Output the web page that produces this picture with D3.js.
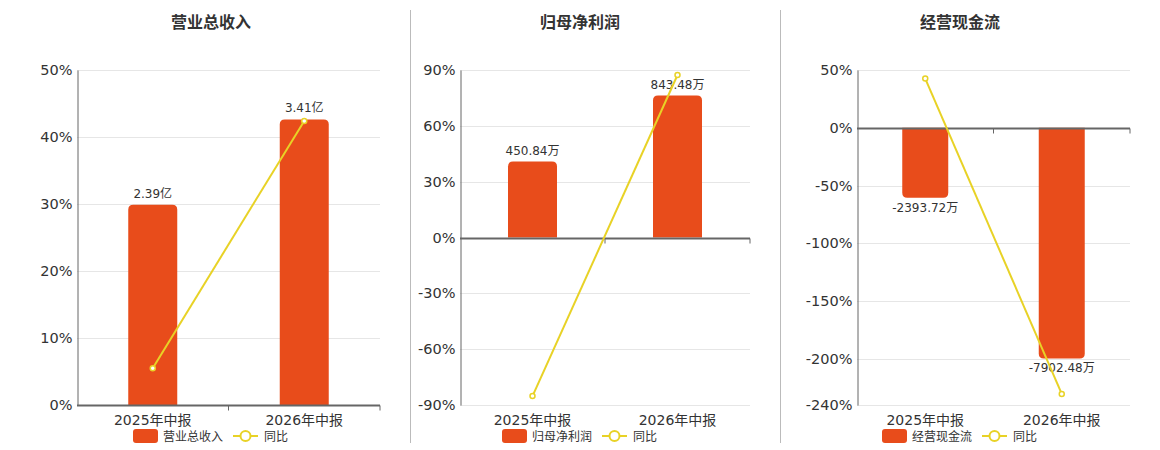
<!DOCTYPE html>
<html>
<head>
<meta charset="utf-8">
<script src="https://cdn.jsdelivr.net/npm/d3@7"></script>
<style>
  body { margin: 0; background: #fff; }
  svg { font-family: "DejaVu Sans", "Noto Sans CJK SC", sans-serif; }
</style>
</head>
<body>
<svg id="chart" width="1160" height="450"></svg>
<script>
var categories = ["2025年中报", "2026年中报"];

var titles = ["营业总收入", "归母净利润", "经营现金流"];

// bar values (shown as labels) and yoy percentages
var revenueValues = [2.39, 3.41];
var revenueLabels = ["2.39亿", "3.41亿"];
var revenueYoy = [5.5, 42.4];

var profitValues = [450.84, 843.48];
var profitLabels = ["450.84万", "843.48万"];
var profitYoy = [-85.2, 87.3];

var cashValues = [-2393.72, -7902.48];
var cashLabels = ["-2393.72万", "-7902.48万"];
var cashYoy = [42.6, -230.4];

var revenueTicks = [0, 10, 20, 30, 40, 50];
var profitTicks = [-90, -60, -30, 0, 30, 60, 90];
var cashTicks = [-240, -200, -150, -100, -50, 0, 50];

var barColor = "#e84c1b";
var lineColor = "#e8d226";

var panels = [
  { title: titles[0], values: revenueValues, labels: revenueLabels, yoy: revenueYoy,
    ticks: revenueTicks, barDomain: [0, 4.0], x0: 77, x1: 380, cx: 211, barW: 49 },
  { title: titles[1], values: profitValues, labels: profitLabels, yoy: profitYoy,
    ticks: profitTicks, barDomain: [-995, 995], x0: 460, x1: 750, cx: 580, barW: 49 },
  { title: titles[2], values: cashValues, labels: cashLabels, yoy: cashYoy,
    ticks: cashTicks, barDomain: [-9500, 1980], x0: 857, x1: 1130, cx: 960, barW: 46 }
];

var svg = d3.select("#chart");
var plotTop = 70, plotBottom = 405;

// separators
[410, 780].forEach(function(x) {
  svg.append("line")
    .attr("x1", x + 0.5).attr("x2", x + 0.5).attr("y1", 10).attr("y2", 443)
    .attr("stroke", "#bbb").attr("stroke-width", 1);
});

function roundedBar(x, y0, y1, w, r) {
  // rounded corners on the far end from zero
  var p = d3.path();
  if (y1 < y0) {
    r = Math.min(r, y0 - y1);
    p.moveTo(x, y0);
    p.lineTo(x, y1 + r);
    p.quadraticCurveTo(x, y1, x + r, y1);
    p.lineTo(x + w - r, y1);
    p.quadraticCurveTo(x + w, y1, x + w, y1 + r);
    p.lineTo(x + w, y0);
  } else {
    r = Math.min(r, y1 - y0);
    p.moveTo(x, y0);
    p.lineTo(x, y1 - r);
    p.quadraticCurveTo(x, y1, x + r, y1);
    p.lineTo(x + w - r, y1);
    p.quadraticCurveTo(x + w, y1, x + w, y1 - r);
    p.lineTo(x + w, y0);
  }
  p.closePath();
  return p.toString();
}

panels.forEach(function(pn) {
  var g = svg.append("g");

  var x = d3.scaleBand().domain(categories).range([pn.x0, pn.x1]);
  var y = d3.scaleLinear().domain(d3.extent(pn.ticks)).range([plotBottom, plotTop]);
  var yb = d3.scaleLinear().domain(pn.barDomain).range([plotBottom, plotTop]);

  g.append("text")
    .attr("x", pn.cx).attr("y", 28)
    .attr("text-anchor", "middle")
    .attr("font-size", 16).attr("font-weight", "bold")
    .attr("fill", "#333")
    .text(pn.title);

  // grid
  g.selectAll(".grid").data(pn.ticks).enter().append("line")
    .attr("x1", pn.x0).attr("x2", pn.x1)
    .attr("y1", function(d) { return Math.round(y(d)) + 0.5; })
    .attr("y2", function(d) { return Math.round(y(d)) + 0.5; })
    .attr("stroke", "#e6e6e6");

  // y axis
  var yAxis = d3.axisLeft(y).tickValues(pn.ticks).tickSize(0).tickPadding(5)
    .tickFormat(function(d) { return d + "%"; });
  var ya = g.append("g").attr("transform", "translate(" + (pn.x0 + 0.5) + ",0)").call(yAxis);
  ya.select(".domain").attr("stroke", "#666");
  ya.selectAll("text").attr("font-size", 14.5).attr("fill", "#333")
    .attr("font-family", "DejaVu Sans, sans-serif");

  // bars
  g.selectAll(".bar").data(pn.values).enter().append("path")
    .attr("d", function(d, i) {
      var bx = x(categories[i]) + x.bandwidth() / 2 - pn.barW / 2;
      return roundedBar(bx, yb(0), yb(d), pn.barW, 5);
    })
    .attr("fill", barColor);

  // zero / category axis line
  var zy = Math.round(y(0)) + 0.5;
  g.append("line")
    .attr("x1", pn.x0).attr("x2", pn.x1).attr("y1", zy).attr("y2", zy)
    .attr("stroke", "#666").attr("stroke-width", 2);
  var tickXs = [pn.x0 + x.step(), pn.x1];
  g.selectAll(".xt").data(tickXs).enter().append("line")
    .attr("x1", function(d) { return d; }).attr("x2", function(d) { return d; })
    .attr("y1", zy).attr("y2", zy + 5)
    .attr("stroke", "#666");

  // category labels
  g.selectAll(".cat").data(categories).enter().append("text")
    .attr("x", function(d) { return x(d) + x.bandwidth() / 2; })
    .attr("y", 425)
    .attr("text-anchor", "middle")
    .attr("font-size", 14).attr("fill", "#333")
    .text(function(d) { return d; });

  // bar labels
  g.selectAll(".lbl").data(pn.values).enter().append("text")
    .attr("x", function(d, i) { return x(categories[i]) + x.bandwidth() / 2; })
    .attr("y", function(d) { return d >= 0 ? yb(d) - 7 : yb(d) + 14; })
    .attr("text-anchor", "middle")
    .attr("font-size", 12).attr("fill", "#333")
    .text(function(d, i) { return pn.labels[i]; });

  // yoy line
  var line = d3.line()
    .x(function(d, i) { return x(categories[i]) + x.bandwidth() / 2; })
    .y(function(d) { return y(d); });
  g.append("path").datum(pn.yoy)
    .attr("d", line)
    .attr("fill", "none").attr("stroke", lineColor).attr("stroke-width", 2);
  g.selectAll(".pt").data(pn.yoy).enter().append("circle")
    .attr("cx", function(d, i) { return x(categories[i]) + x.bandwidth() / 2; })
    .attr("cy", function(d) { return y(d); })
    .attr("r", 2.5)
    .attr("fill", "#fff").attr("stroke", lineColor).attr("stroke-width", 1.5);

  // legend, centred under the panel title
  var lx = pn.cx - 78;
  var lg = g.append("g").attr("transform", "translate(" + lx + ",436)");
  lg.append("rect").attr("x", 0).attr("y", -7).attr("width", 25).attr("height", 14)
    .attr("rx", 3).attr("fill", barColor);
  lg.append("text").attr("x", 30).attr("y", 4.5)
    .attr("font-size", 12).attr("fill", "#333").text(pn.title);
  lg.append("line").attr("x1", 100).attr("x2", 125).attr("y1", 0).attr("y2", 0)
    .attr("stroke", lineColor).attr("stroke-width", 2);
  lg.append("circle").attr("cx", 112.5).attr("cy", 0).attr("r", 5)
    .attr("fill", "#fff").attr("stroke", lineColor).attr("stroke-width", 2);
  lg.append("text").attr("x", 131).attr("y", 4.5)
    .attr("font-size", 12).attr("fill", "#333").text("同比");
});
</script>
</body>
</html>
